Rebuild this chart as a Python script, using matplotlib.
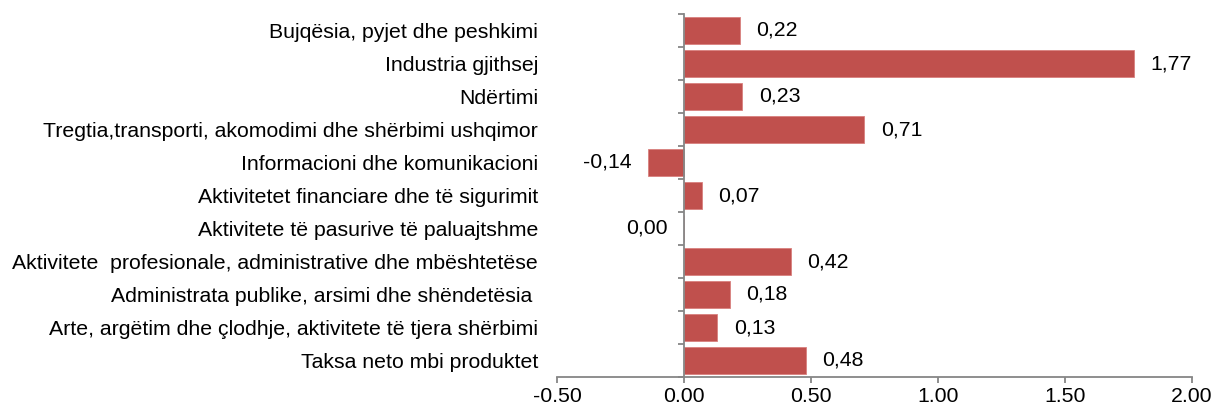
import matplotlib
matplotlib.use("Agg")
import matplotlib.pyplot as plt
import numpy as np

plt.rcParams['font.family'] = ['Liberation Sans', 'DejaVu Sans']

categories = [
    "Bujqësia, pyjet dhe peshkimi",
    "Industria gjithsej",
    "Ndërtimi",
    "Tregtia,transporti, akomodimi dhe shërbimi ushqimor",
    "Informacioni dhe komunikacioni",
    "Aktivitetet financiare dhe të sigurimit",
    "Aktivitete të pasurive të paluajtshme",
    "Aktivitete  profesionale, administrative dhe mbështetëse",
    "Administrata publike, arsimi dhe shëndetësia ",
    "Arte, argëtim dhe çlodhje, aktivitete të tjera shërbimi",
    "Taksa neto mbi produktet",
]
values = [0.22, 1.77, 0.23, 0.71, -0.14, 0.07, 0.00, 0.42, 0.18, 0.13, 0.48]
xticks = [-0.5, 0.0, 0.5, 1.0, 1.5, 2.0]

bar_color = "#C0504D"
axis_color = "#868686"
fs = 15.3

fig = plt.figure(figsize=(12.16, 4.12), dpi=100)
ax = fig.add_axes([557 / 1216, 1 - 377 / 412, (1192 - 557) / 1216, (377 - 14) / 412])

y = np.arange(len(categories))
ax.barh(y, values, height=0.8, color=bar_color, edgecolor="#D9807E", linewidth=0.6, zorder=2)

ax.set_xlim(-0.5, 2.0)
ax.set_ylim(len(categories) - 0.5, -0.5)

for s in ["top", "right"]:
    ax.spines[s].set_visible(False)
ax.spines["left"].set_position(("data", 0))
ax.spines["left"].set_color(axis_color)
ax.spines["bottom"].set_color(axis_color)
ax.spines["left"].set_linewidth(1.3)
ax.spines["bottom"].set_linewidth(1.3)
ax.spines["left"].set_zorder(3)

ax.set_xticks(xticks)
ax.set_xticklabels(["%.2f" % v for v in xticks], fontsize=fs)
ax.tick_params(axis="x", length=4.5, width=1.3, color=axis_color, pad=3)

ax.set_yticks(y)
ax.set_yticklabels(categories, fontsize=fs)
ax.set_yticks(np.arange(-0.5, len(categories) + 0.5, 1), minor=True)
ax.tick_params(axis="y", which="major", length=0, pad=105)
ax.tick_params(axis="y", which="minor", length=4, width=1.3, color=axis_color)

for yi, v in zip(y, values):
    label = ("%.2f" % v).replace(".", ",")
    if v > 0:
        ax.annotate(label, (v, yi), xytext=(12, 0), textcoords="offset points",
                    va="center", ha="left", fontsize=fs)
    else:
        ax.annotate(label, (v, yi), xytext=(-12, 0), textcoords="offset points",
                    va="center", ha="right", fontsize=fs)

fig.savefig("out.png", dpi=100)
